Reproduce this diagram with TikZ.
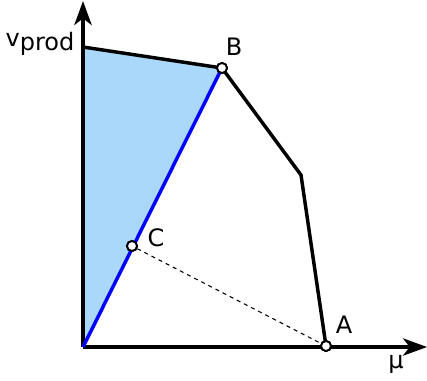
\documentclass[tikz,border=0pt]{standalone}
\usepackage{fontspec}
\setmainfont{DejaVu Sans}
\usepackage{tikz}
\usetikzlibrary{arrows.meta, positioning}
\definecolor{feasfill}{RGB}{170,216,250}

\begin{document}
\begin{tikzpicture}[x=0.75pt, y=-0.75pt,
  axis/.style={line width=2.6pt, -{Stealth[length=18pt, width=13pt, inset=5pt]}},
  edge/.style={line width=2.6pt, line join=miter},
  pt/.style={circle, draw, line width=1.4pt, fill=white, inner sep=0pt, minimum size=7.5pt},
  lbl/.style={font=\fontsize{18}{20}\selectfont, inner sep=1pt},
]
\useasboundingbox (0,0) rectangle (427,380);

% corners of the region
\coordinate (O) at (83,347);
\coordinate (T) at (83,47);
\coordinate (K) at (301,175);
\coordinate (xend) at (427,347);
\coordinate (yend) at (83,1);

\fill[feasfill] (O) -- (T) -- (222,68) -- cycle;

% axes
\draw[axis] (O) -- (xend);
\draw[axis] (O) -- (yend);

\node[pt] (B) at (222,68) {};
\node[pt] (A) at (326,346) {};
\node[pt] (C) at (132,246) {};

\draw[edge] (T) -- (B.center) -- (K) -- (A.center);
\draw[edge, blue] (O) -- (B.center);
\draw[dashed, line width=0.8pt] (C) -- (A);

% redraw the points on top
\node[pt] at (B) {};
\node[pt] at (A) {};
\node[pt] at (C) {};

\node[lbl] (labB) at (234,47) {B};
\node[lbl] (labC) at (156,238) {C};
\node[lbl] (labA) at (344,325) {A};
\node[lbl] (labmu) at (396,364) {μ};
\node[lbl] (labv) at (40,44) {v\raisebox{-3pt}{prod}};
\end{tikzpicture}
\end{document}
